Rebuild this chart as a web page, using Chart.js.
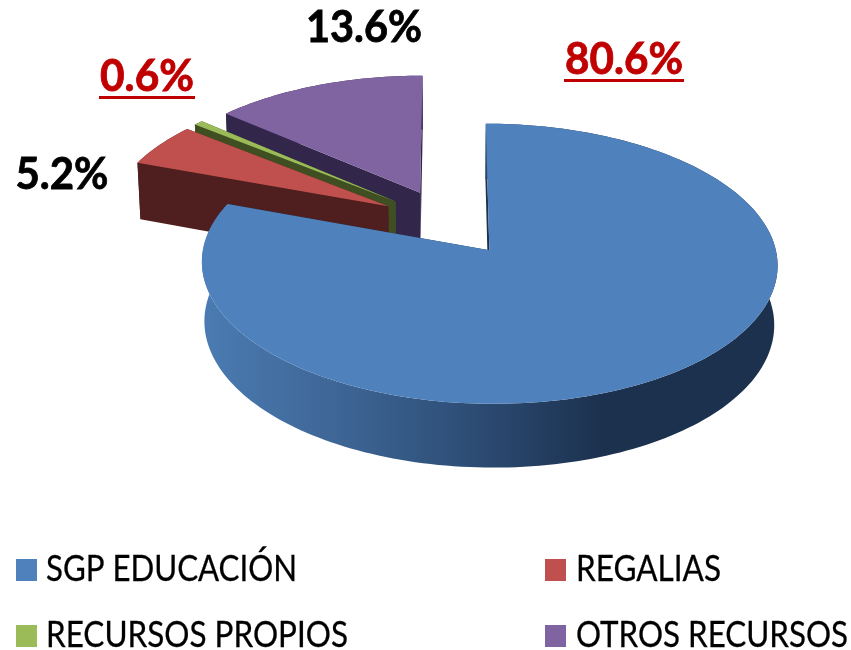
<!DOCTYPE html>
<html>
<head>
<meta charset="utf-8">
<style>
  html, body { margin: 0; background: #fff; }
  canvas { display: block; }
</style>
</head>
<body>
<canvas id="myChart" width="851" height="650"></canvas>
<script src="https://cdn.jsdelivr.net/npm/chart.js@4"></script>
<script>
const categories = ['SGP EDUCACIÓN', 'REGALIAS', 'RECURSOS PROPIOS', 'OTROS RECURSOS'];
const shares = [80.6, 5.2, 0.6, 13.6];

const topColors = ['#4F81BD', '#C0504D', '#9BBB59', '#8064A2'];
const sideColors = ['#1C314E', '#4E1F1E', '#3F4F22', '#32264A'];
const labelColors = ['#C00000', '#000', '#C00000', '#000'];
const labelUnderline = [true, false, true, false];
// back to front
const paintOrder = [3, 2, 1, 0];

// x centre, baseline, width of the value labels
const labelBoxes = [[624, 74, 118], [62, 189, 93], [147, 91, 94], [364, 42, 116]];
// square x, text x, baseline, text width of the legend rows
const legendBoxes = [[16, 46, 581, 251], [545, 576, 581, 145], [16, 46, 647, 302], [545, 576, 647, 272]];

// perspective view of the pie plane, fitted to the picture
const view = { x0: 448.5, y0: 222.5, a: 281, b: 133.5, k: 0.0941, depth: 59, kz: 0.01 };

function project(u, v, z) {
  const w = 1 - view.k * v + view.kz * z;
  return [view.x0 + view.a * u / w, view.y0 + (view.b * v + view.depth * z) / w];
}

function rimPoints(arc, z) {
  const pts = [];
  const steps = Math.max(4, Math.ceil((arc.endAngle - arc.startAngle) * 40));
  for (let i = 0; i <= steps; i++) {
    const t = arc.startAngle + (arc.endAngle - arc.startAngle) * i / steps;
    pts.push(project(arc.ox + Math.cos(t), arc.oy + Math.sin(t), z));
  }
  return pts;
}

function fillPoly(ctx, pts, color) {
  ctx.beginPath();
  pts.forEach((p, i) => i ? ctx.lineTo(p[0], p[1]) : ctx.moveTo(p[0], p[1]));
  ctx.closePath();
  ctx.fillStyle = color;
  ctx.fill();
}

function fitText(ctx, text, x, baseline, width, font, color, weight) {
  ctx.save();
  ctx.font = font;
  ctx.fillStyle = color;
  ctx.textAlign = 'left';
  ctx.textBaseline = 'alphabetic';
  const sx = width / ctx.measureText(text).width;
  ctx.translate(x, baseline);
  ctx.scale(sx, 1);
  ctx.fillText(text, 0, 0);
  if (weight) {
    ctx.strokeStyle = color;
    ctx.lineWidth = weight;
    ctx.strokeText(text, 0, 0);
  }
  ctx.restore();
}

const pie3d = {
  id: 'pie3d',
  beforeDatasetsDraw: (chart) => {
    const ctx = chart.ctx;
    const meta = chart.getDatasetMeta(0);
    const arcs = meta.data.map((el) => {
      const p = el.getProps(['startAngle', 'endAngle', 'outerRadius'], true);
      const mid = (p.startAngle + p.endAngle) / 2;
      const e = el.options.offset / p.outerRadius;
      return { startAngle: p.startAngle, endAngle: p.endAngle, ox: Math.cos(mid) * e, oy: Math.sin(mid) * e };
    });

    paintOrder.forEach((i) => {
      const arc = arcs[i];
      const topRim = rimPoints(arc, 0);
      const lowRim = rimPoints(arc, 1);
      const apexTop = project(arc.ox, arc.oy, 0);
      const apexLow = project(arc.ox, arc.oy, 1);

      let sideFill = sideColors[i];
      if (i === 0) {
        const g = ctx.createLinearGradient(204, 0, 774, 0);
        g.addColorStop(0, '#4A7BB2');
        g.addColorStop(0.2, '#40699A');
        g.addColorStop(0.45, '#2E4F78');
        g.addColorStop(0.7, '#1C314E');
        g.addColorStop(1, '#1C314E');
        sideFill = g;
      }
      // the two cut walls, the rim wall, then the top face
      fillPoly(ctx, [apexTop, topRim[0], lowRim[0], apexLow], sideColors[i]);
      fillPoly(ctx, [apexTop, topRim[topRim.length - 1], lowRim[lowRim.length - 1], apexLow], sideColors[i]);
      fillPoly(ctx, topRim.concat(lowRim.slice().reverse()), sideFill);
      fillPoly(ctx, [apexTop].concat(topRim), topColors[i]);
    });
    return false;
  },
  afterDraw: (chart) => {
    const ctx = chart.ctx;
    shares.forEach((v, i) => {
      const [cx, base, width] = labelBoxes[i];
      const text = v.toFixed(1) + '%';
      fitText(ctx, text, cx - width / 2, base, width, 'bold 43px Lato', labelColors[i], 0.8);
      if (labelUnderline[i]) {
        ctx.fillStyle = labelColors[i];
        ctx.fillRect(cx - width / 2 - 1, base + 5, width + 2, 3);
      }
    });
    categories.forEach((name, i) => {
      const [sx, tx, base, width] = legendBoxes[i];
      ctx.fillStyle = topColors[i];
      ctx.fillRect(sx, base - 22, 21, 22);
      fitText(ctx, name, tx, base, width, '37px Lato', '#000', 0.3);
    });
  }
};

new Chart(document.getElementById('myChart').getContext('2d'), {
  type: 'pie',
  data: {
    labels: categories,
    datasets: [{
      data: shares,
      backgroundColor: topColors,
      borderWidth: 0,
      offset: 72
    }]
  },
  options: {
    responsive: false,
    animation: false,
    events: [],
    layout: { padding: 0 },
    plugins: {
      legend: { display: false },
      tooltip: { enabled: false }
    }
  },
  plugins: [pie3d]
});
</script>
</body>
</html>
